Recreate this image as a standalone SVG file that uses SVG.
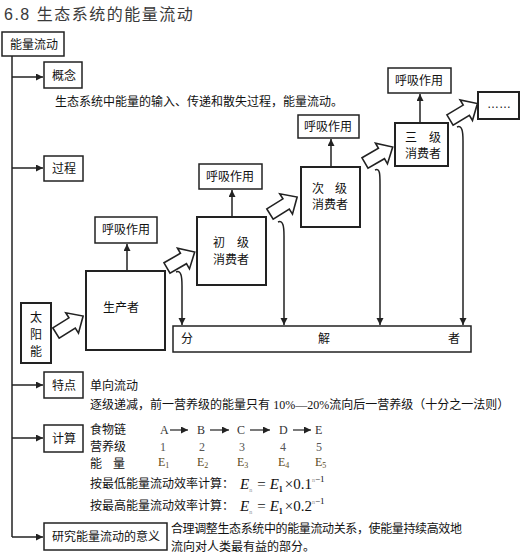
<svg xmlns="http://www.w3.org/2000/svg" width="530" height="554" viewBox="0 0 530 554">
<style>
text{font-family:"Liberation Sans","Noto Sans CJK SC",sans-serif;font-size:12px;fill:#111}
.box{fill:#fff;stroke:#222;stroke-width:1.5}
.ln{fill:none;stroke:#222;stroke-width:1.5}
.fat{fill:#fff;stroke:#222;stroke-width:1.6;stroke-linejoin:miter}
.ser{font-family:"Liberation Serif","Noto Sans CJK SC",serif}
.c{text-anchor:middle}
.en{fill:#5b4a1c}
.sb{font-size:8px}
</style>
<defs>
<marker id="ah" markerUnits="userSpaceOnUse" markerWidth="8" markerHeight="8" refX="7" refY="3.5" orient="auto">
<path d="M0,0 L7,3.5 L0,7 z" fill="#222"/>
</marker>
<path id="fat" d="M0,-6 L19,-6 L19,-12 L32,0 L19,12 L19,6 L0,6 Z"/>
</defs>

<text x="4" y="20" style="font-size:16px;fill:#3a3a3a;letter-spacing:1.5px">6.8 生态系统的能量流动</text>

<g id="root"><rect class="box" x="2" y="32" width="62" height="24"/><text x="10" y="49">能量流动</text></g>

<g id="connectors">
<path class="ln" d="M12,56 V537"/>
<path class="ln" d="M12,77 H43" marker-end="url(#ah)"/>
<path class="ln" d="M12,168 H43" marker-end="url(#ah)"/>
<path class="ln" d="M12,385 H43" marker-end="url(#ah)"/>
<path class="ln" d="M12,438 H43" marker-end="url(#ah)"/>
<path class="ln" d="M12,537 H43" marker-end="url(#ah)"/>
<path class="ln" d="M127,271 V244" marker-end="url(#ah)"/>
<path class="ln" d="M232,217 V190" marker-end="url(#ah)"/>
<path class="ln" d="M331,167 V139" marker-end="url(#ah)"/>
<path class="ln" d="M420,123 V94" marker-end="url(#ah)"/>
<path class="ln" d="M176,272 C181,270 182,276 182,286 V325" marker-end="url(#ah)"/>
<path class="ln" d="M278,222 C283,220 284,226 284,236 V325" marker-end="url(#ah)"/>
<path class="ln" d="M375,170 C380,168 380,174 380,184 V325" marker-end="url(#ah)"/>
<path class="ln" d="M457,127 C462,125 463,131 463,141 V325" marker-end="url(#ah)"/>
<use href="#fat" class="fat" transform="translate(56,333) rotate(-32)"/>
<use href="#fat" class="fat" transform="translate(167,268) rotate(-30)"/>
<use href="#fat" class="fat" transform="translate(270,214) rotate(-32)"/>
<use href="#fat" class="fat" transform="translate(365,163) rotate(-30)"/>
<use href="#fat" class="fat" transform="translate(450,120) rotate(-31)"/>
</g>

<g id="gainian"><rect class="box" x="44" y="62" width="38" height="26"/><text x="52" y="80">概念</text></g>
<text x="55" y="106">生态系统中能量的输入、传递和散失过程，能量流动。</text>

<g id="guocheng"><rect class="box" x="44" y="156" width="39" height="25"/><text x="52" y="173">过程</text></g>

<g id="sun"><rect class="box" x="21" y="303" width="30" height="60" style="stroke-width:2"/>
<text x="36" y="322" class="c">太</text><text x="36" y="339" class="c">阳</text><text x="36" y="356" class="c">能</text></g>

<g id="producer"><rect class="box" x="86" y="271" width="79" height="79" style="stroke-width:2"/><text x="121" y="312" class="c">生产者</text></g>
<g id="resp1"><rect class="box" x="95" y="217" width="62" height="26"/><text x="126" y="234" class="c">呼吸作用</text></g>

<g id="c1"><rect class="box" x="197" y="217" width="69" height="68" style="stroke-width:2"/><text x="213" y="247">初</text><text x="237" y="247">级</text><text x="213" y="264">消费者</text></g>
<g id="resp2"><rect class="box" x="199" y="164" width="63" height="25"/><text x="230" y="181" class="c">呼吸作用</text></g>

<g id="c2"><rect class="box" x="301" y="167" width="59" height="60" style="stroke-width:2"/><text x="312" y="193">次</text><text x="335" y="193">级</text><text x="312" y="209">消费者</text></g>
<g id="resp3"><rect class="box" x="298" y="115" width="61" height="23"/><text x="328" y="131" class="c">呼吸作用</text></g>

<g id="c3"><rect class="box" x="395" y="123" width="53" height="43" style="stroke-width:2"/><text x="405" y="142">三</text><text x="429" y="142">级</text><text x="405" y="158">消费者</text></g>
<g id="resp4"><rect class="box" x="388" y="68" width="63" height="25"/><text x="419" y="85" class="c">呼吸作用</text></g>

<g id="more"><rect class="box" x="478" y="92" width="41" height="27" style="stroke-width:2"/><text x="499" y="108" class="c">……</text></g>

<g id="decomposer"><rect class="box" x="173" y="326" width="298" height="26"/>
<text x="181" y="343">分</text><text x="318" y="343">解</text><text x="448" y="343">者</text></g>

<g id="tedian"><rect class="box" x="44" y="372" width="39" height="26"/><text x="52" y="390">特点</text></g>
<text x="90" y="390">单向流动</text>
<text x="90" y="409">逐级递减，前一营养级的能量只有 <tspan class="ser">10%—20%</tspan>流向后一营养级（十分之一法则）</text>

<g id="jisuan"><rect class="box" x="44" y="425" width="39" height="27"/><text x="52" y="443">计算</text></g>
<text x="90" y="434">食物链</text>
<text x="90" y="451">营养级</text>
<text x="90" y="468">能</text><text x="113" y="468">量</text>
<text x="160" y="434" class="ser" style="fill:#333">A</text>
<text x="197" y="434" class="ser" style="fill:#333">B</text>
<text x="237" y="434" class="ser" style="fill:#333">C</text>
<text x="279" y="434" class="ser" style="fill:#333">D</text>
<text x="315" y="434" class="ser" style="fill:#333">E</text>
<text x="160" y="451" class="ser" style="fill:#555">1</text>
<text x="199" y="451" class="ser" style="fill:#555">2</text>
<text x="239" y="451" class="ser" style="fill:#555">3</text>
<text x="280" y="451" class="ser" style="fill:#555">4</text>
<text x="316" y="451" class="ser" style="fill:#555">5</text>
<text x="158" y="466" class="ser en">E<tspan class="sb" dy="2">1</tspan></text>
<text x="197" y="466" class="ser en">E<tspan class="sb" dy="2">2</tspan></text>
<text x="237" y="466" class="ser en">E<tspan class="sb" dy="2">3</tspan></text>
<text x="278" y="466" class="ser en">E<tspan class="sb" dy="2">4</tspan></text>
<text x="315" y="466" class="ser en">E<tspan class="sb" dy="2">5</tspan></text>
<path class="ln" style="stroke-width:1.2" d="M170,430 H188" marker-end="url(#ah)"/>
<path class="ln" style="stroke-width:1.2" d="M210,430 H229" marker-end="url(#ah)"/>
<path class="ln" style="stroke-width:1.2" d="M250,430 H270" marker-end="url(#ah)"/>
<path class="ln" style="stroke-width:1.2" d="M293,430 H311" marker-end="url(#ah)"/>

<text x="90" y="488">按最低能量流动效率计算：</text>
<text x="240" y="489" class="ser" style="font-size:15px"><tspan style="font-style:italic">E</tspan><tspan style="font-size:6px;fill:#999" dy="3">n</tspan><tspan dy="-3" dx="5">=</tspan><tspan dx="4" style="font-style:italic">E</tspan><tspan style="font-size:8px;font-weight:bold" dy="3">1</tspan><tspan dy="-3" dx="2">×0.1</tspan><tspan style="font-size:6px;fill:#999" dy="-7">n</tspan><tspan style="font-size:9px">−1</tspan></text>
<text x="90" y="510">按最高能量流动效率计算：</text>
<text x="240" y="511" class="ser" style="font-size:15px"><tspan style="font-style:italic">E</tspan><tspan style="font-size:6px;fill:#999" dy="3">n</tspan><tspan dy="-3" dx="5">=</tspan><tspan dx="4" style="font-style:italic">E</tspan><tspan style="font-size:8px;font-weight:bold" dy="3">1</tspan><tspan dy="-3" dx="2">×0.2</tspan><tspan style="font-size:6px;fill:#999" dy="-7">n</tspan><tspan style="font-size:9px">−1</tspan></text>

<g id="yiyi"><rect class="box" x="44" y="523" width="123" height="27"/><text x="52" y="541">研究能量流动的意义</text></g>
<text x="171" y="533" textLength="291" lengthAdjust="spacing">合理调整生态系统中的能量流动关系，使能量持续高效地</text>
<text x="171" y="551">流向对人类最有益的部分。</text>
</svg>
